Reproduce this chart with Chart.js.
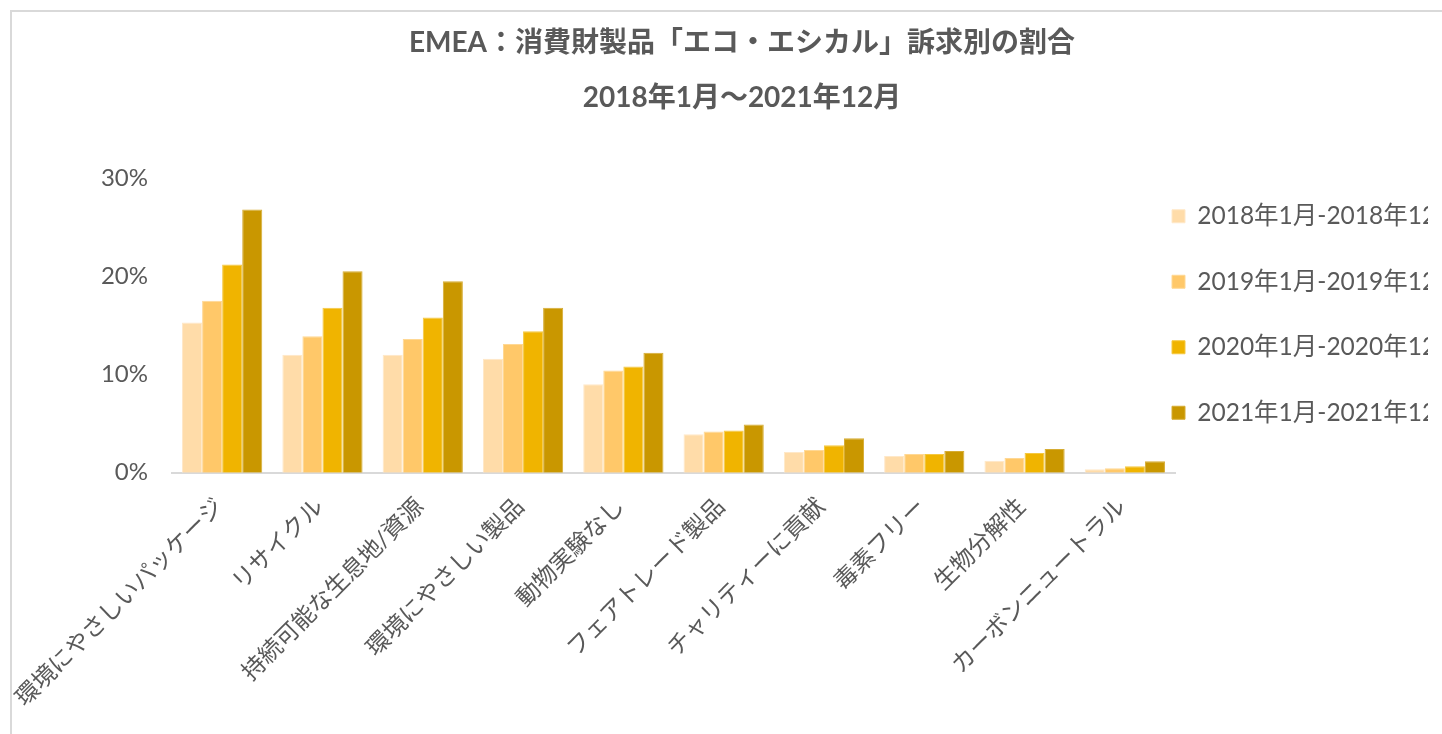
<!DOCTYPE html>
<html>
<head>
<meta charset="utf-8">
<script src="https://cdn.jsdelivr.net/npm/chart.js@4.4.0/dist/chart.umd.min.js"></script>
<style>
    html, body { margin: 0; padding: 0; overflow: hidden; background: #fff; }
    #frame {
        position: absolute; left: 10px; top: 10px;
        width: 1470px; height: 740px;
        border-left: 2px solid #d9d9d9; border-top: 2px solid #d9d9d9;
    }
    #myChart { position: absolute; left: 0; top: 0; }
</style>
</head>
<body>
<div id="frame"><canvas id="myChart" width="1460" height="722"></canvas></div>
<script>
'use strict';

var categories = [
    '環境にやさしいパッケージ', 'リサイクル', '持続可能な生息地/資源', '環境にやさしい製品', '動物実験なし',
    'フェアトレード製品', 'チャリティーに貢献', '毒素フリー', '生物分解性', 'カーボンニュートラル'
];
var seriesLabels = ['2018年1月-2018年12月', '2019年1月-2019年12月', '2020年1月-2020年12月', '2021年1月-2021年12月'];
var values2018 = [15.3, 12.0, 12.0, 11.6, 9.0, 3.9, 2.1, 1.7, 1.2, 0.35];
var values2019 = [17.5, 13.9, 13.6, 13.1, 10.4, 4.2, 2.3, 1.9, 1.5, 0.45];
var values2020 = [21.2, 16.8, 15.8, 14.4, 10.8, 4.3, 2.8, 1.9, 2.0, 0.65];
var values2021 = [26.8, 20.5, 19.5, 16.8, 12.2, 4.9, 3.5, 2.2, 2.4, 1.15];
var titleLines = ['EMEA：消費財製品「エコ・エシカル」訴求別の割合', '2018年1月～2021年12月'];
var yTickValues = [0, 10, 20, 30];

var colors = ['#FFDCA9', '#FFC869', '#F0B400', '#C99700'];
var edges = ['#FFE8C8', '#FFD894', '#F5C840', '#D6AC33'];
var fontFamily = "Lato, 'Noto Sans CJK JP', sans-serif";
var textColor = '#595959';
var legendGap = 41;

// legend sits flush against the plot like the original, not one padding further right
var legendNudge = {
    id: 'legendNudge',
    afterLayout: function (chart) {
        var lg = chart.legend;
        lg.left -= legendGap + 3;
        lg.right -= legendGap + 3;
        lg.top -= 59;
        lg.bottom -= 59;
    }
};

var seriesValues = [values2018, values2019, values2020, values2021];
var datasets = seriesValues.map(function (vals, i) {
    return {
        label: seriesLabels[i],
        data: vals,
        backgroundColor: colors[i],
        borderColor: edges[i],
        borderWidth: 1,
        categoryPercentage: 0.8,
        barPercentage: 1.0
    };
});

var ctx = document.getElementById('myChart');
var myChart = new Chart(ctx, {
    type: 'bar',
    data: {
        labels: categories,
        datasets: datasets
    },
    plugins: [legendNudge],
    options: {
        responsive: false,
        animation: false,
        layout: {
            padding: { left: 0, right: 0, top: 3, bottom: 2 }
        },
        plugins: {
            title: {
                display: true,
                text: titleLines,
                color: textColor,
                font: { family: fontFamily, size: 28, weight: 'bold', lineHeight: 55 / 28 },
                padding: { top: 0, bottom: 53 }
            },
            legend: {
                position: 'right',
                align: 'center',
                maxWidth: 297,
                labels: {
                    color: textColor,
                    font: { family: fontFamily, size: 24.5 },
                    boxWidth: 13,
                    boxHeight: 13,
                    padding: legendGap
                }
            },
            tooltip: { enabled: false }
        },
        scales: {
            x: {
                grid: { display: false, drawTicks: false },
                border: { display: true, color: '#d9d9d9', width: 2 },
                afterFit: function (scale) {
                    // long rotated first label would push the plot too far right
                    scale.paddingLeft = 160;
                },
                ticks: {
                    color: textColor,
                    font: { family: fontFamily, size: 23.5 },
                    minRotation: 45,
                    maxRotation: 45,
                    autoSkip: false,
                    padding: 20,
                    labelOffset: -3
                }
            },
            y: {
                min: 0,
                max: 30,
                grid: { display: false, drawTicks: false },
                border: { display: false },
                afterBuildTicks: function (axis) {
                    axis.ticks = yTickValues.map(function (v) { return { value: v }; });
                },
                ticks: {
                    color: textColor,
                    font: { family: fontFamily, size: 24 },
                    padding: 24,
                    callback: function (value) { return value + '%'; }
                }
            }
        }
    }
});
</script>
</body>
</html>
